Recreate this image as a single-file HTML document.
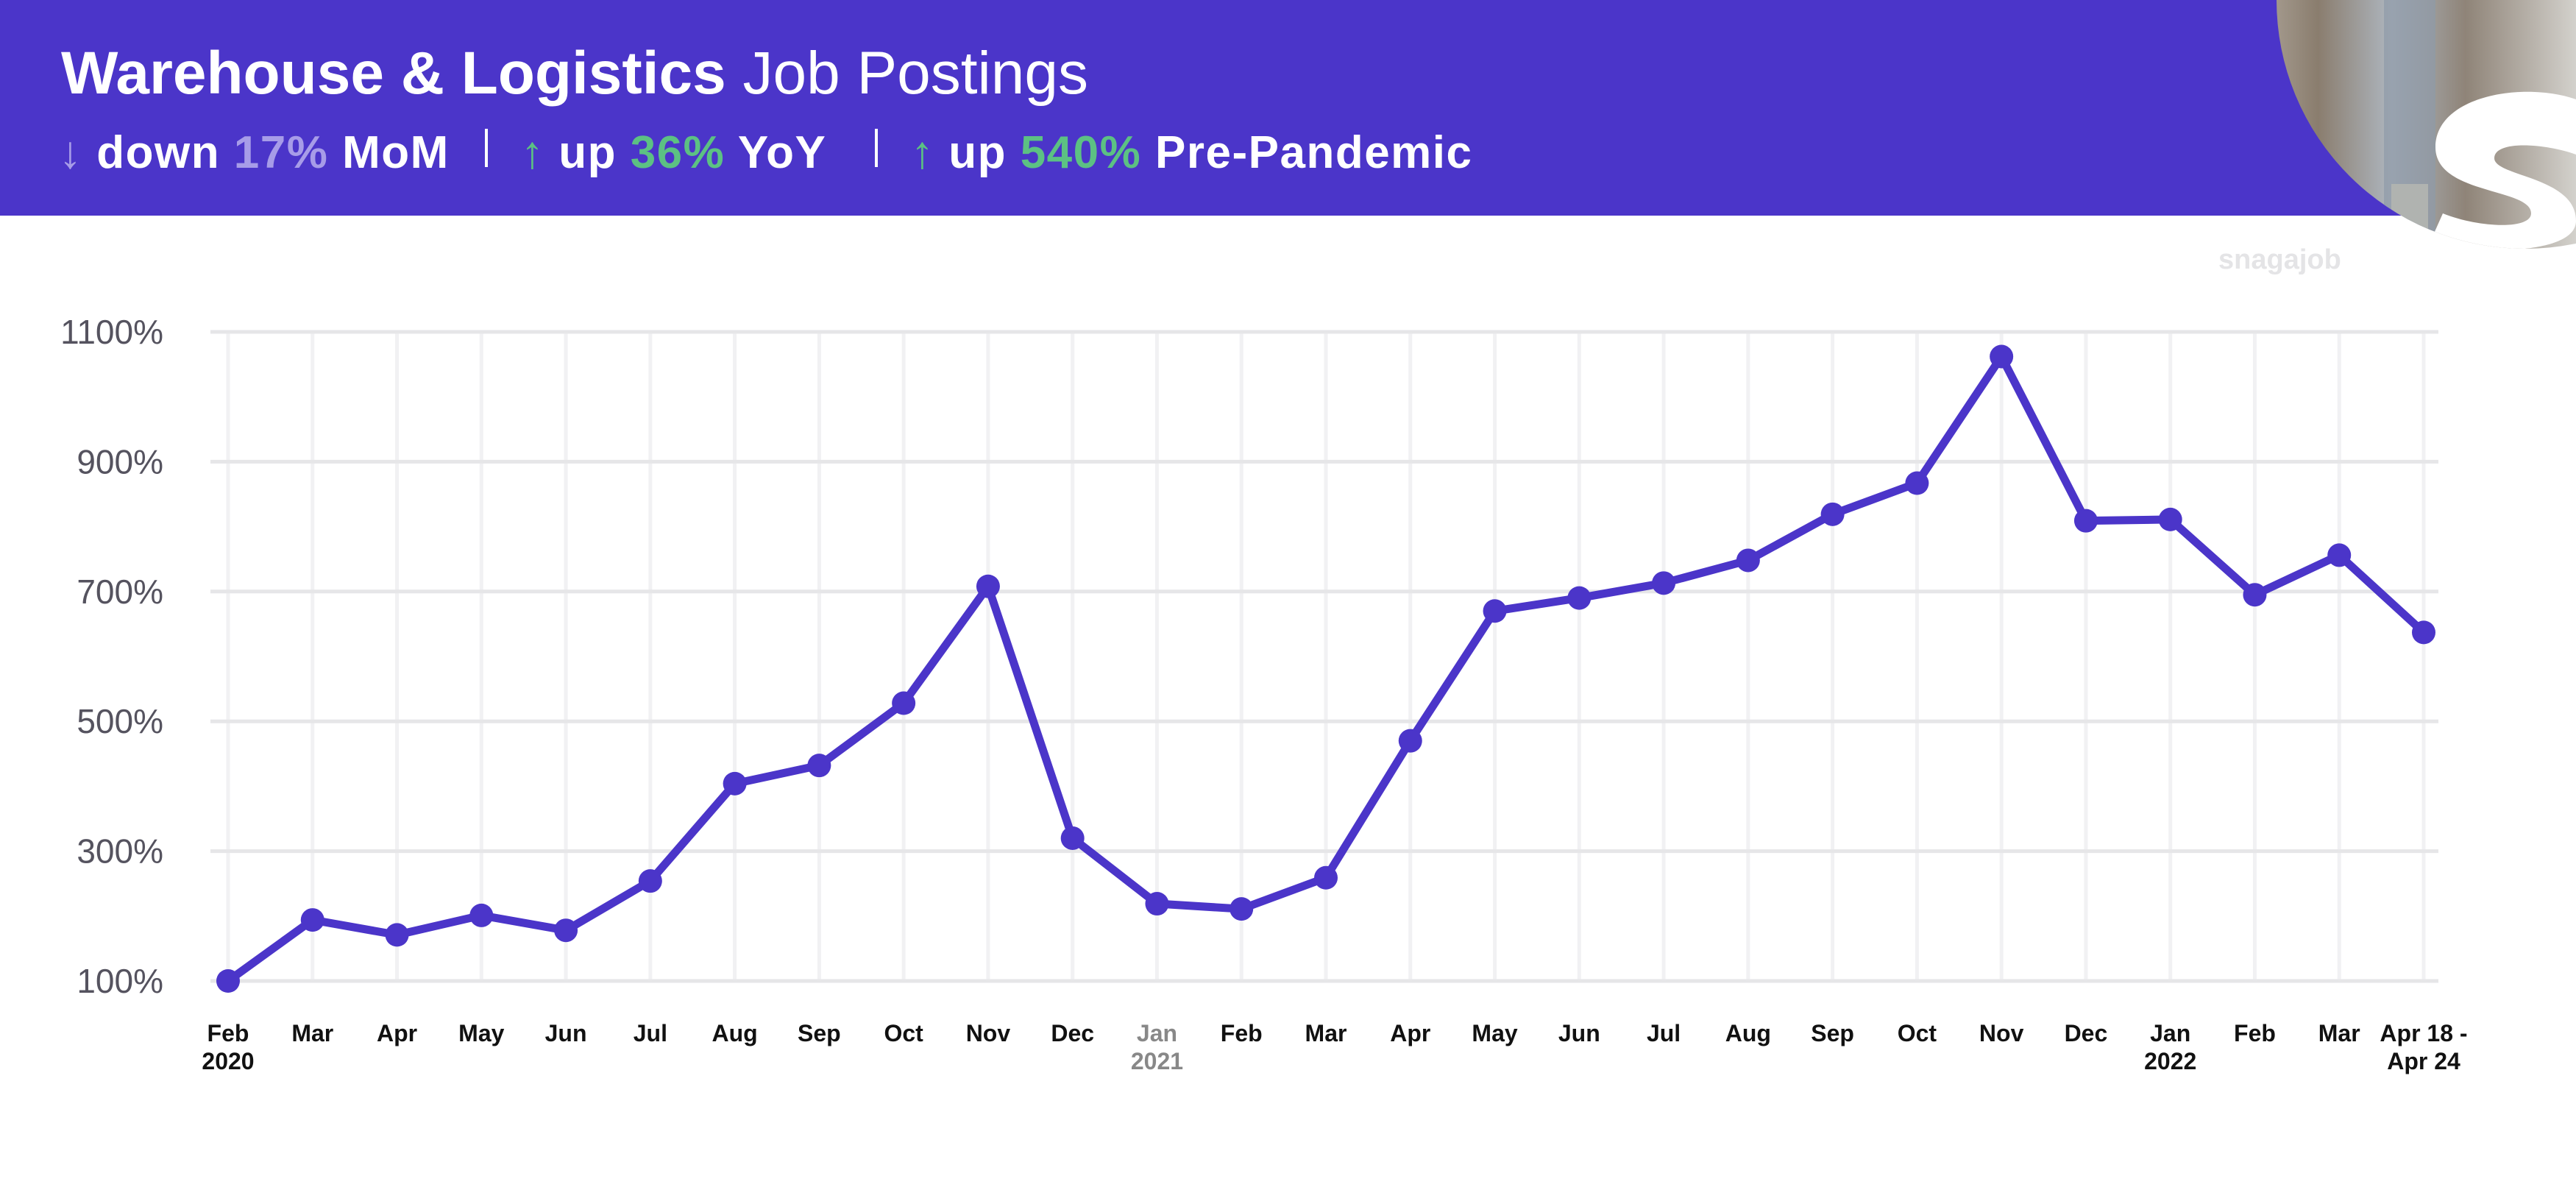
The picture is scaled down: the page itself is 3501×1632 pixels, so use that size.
<!DOCTYPE html>
<html><head><meta charset="utf-8"><style>
body{margin:0;width:3501px;height:1632px;overflow:hidden;background:#fff;font-family:"Liberation Sans",sans-serif}
</style></head><body>
<svg width="3501" height="1632" viewBox="0 0 3501 1632" style="position:absolute;left:0;top:0">
<defs>
<clipPath id="cc"><circle cx="3432" cy="0" r="338"/></clipPath>
<linearGradient id="wh" x1="0" y1="0" x2="1" y2="0"><stop offset="0" stop-color="#c9c4bb"/><stop offset="0.3" stop-color="#8a7d6e"/><stop offset="0.5" stop-color="#aeb6bf"/><stop offset="0.7" stop-color="#8f8478"/><stop offset="1" stop-color="#d3d1cc"/></linearGradient>
</defs>
<rect x="0" y="0" width="3501" height="293" fill="#4B35C9"/>
<g clip-path="url(#cc)">
<rect x="3000" y="0" width="501" height="400" fill="url(#wh)"/>
<rect x="3240" y="0" width="70" height="400" fill="#8e9aa8" opacity="0.7"/>
<rect x="3250" y="250" width="50" height="100" fill="#b0b3b0"/>
<path d="M3501 135 C3430 110 3310 130 3310 200 C3310 265 3440 255 3440 290 C3440 312 3370 310 3320 290 L3300 335 C3380 345 3501 345 3501 300 C3501 240 3390 240 3390 215 C3390 190 3460 195 3501 210 Z" fill="#fff"/>
</g>
<text x="3015" y="365" font-size="38" font-weight="bold" fill="#e4e4e6">snagajob</text>
<text x="83" y="127" font-size="82" fill="#fff"><tspan font-weight="bold">Warehouse &amp; Logistics</tspan> Job Postings</text>
<g font-size="62" font-weight="bold" letter-spacing="1.5">
<text x="80" y="228" fill="#fff"><tspan fill="#A79CE8" font-weight="normal">↓</tspan> down <tspan fill="#A79CE8">17%</tspan> MoM</text>
<rect x="659" y="175" width="4" height="52" fill="#fff"/>
<text x="708" y="228" fill="#fff"><tspan fill="#5CC183" font-weight="normal">↑</tspan> up <tspan fill="#5CC183">36%</tspan> YoY</text>
<rect x="1189" y="175" width="4" height="52" fill="#fff"/>
<text x="1238" y="228" fill="#fff"><tspan fill="#5CC183" font-weight="normal">↑</tspan> up <tspan fill="#5CC183">540%</tspan> Pre-Pandemic</text>
</g>
<g id="grid"></g><g id="ylab"></g><g id="xlab"></g><g id="series"></g>
</svg>
<script>
const categories=["Feb","Mar","Apr","May","Jun","Jul","Aug","Sep","Oct","Nov","Dec","Jan","Feb","Mar","Apr","May","Jun","Jul","Aug","Sep","Oct","Nov","Dec","Jan","Feb","Mar","Apr 18 -"];
const subLabels={0:"2020",11:"2021",23:"2022",26:"Apr 24"};
const values=[100,194,171,201,178,254,404,432,528,708,320,219,211,259,470,670,690,713,748,819,867,1062,809,811,695,756,637];
const yTicks=[100,300,500,700,900,1100];
const NS="http://www.w3.org/2000/svg";
const x0=310,x1=3294,yb=1333,yt=451;
const xs=i=>x0+(x1-x0)*i/(categories.length-1);
const ys=v=>yb-(v-100)/1000*(yb-yt);
function mk(t,a,p){const e=document.createElementNS(NS,t);for(const k in a)e.setAttribute(k,a[k]);p.appendChild(e);return e;}
const g=document.getElementById('grid'),yl=document.getElementById('ylab'),xl=document.getElementById('xlab'),s=document.getElementById('series');
categories.forEach((c,i)=>{const l=mk('line',{x1:xs(i),x2:xs(i),y1:yt,y2:yb,stroke:'#f1f1f3','stroke-width':5},g);

});
yTicks.forEach(v=>{const l=mk('line',{x1:286,x2:3314,y1:ys(v),y2:ys(v),stroke:'#e6e6e8','stroke-width':5},g);


const t=mk('text',{x:222,y:ys(v)+16,'font-size':46,fill:'#55535f','text-anchor':'end'},yl);t.textContent=v+'%';

});
categories.forEach((c,i)=>{const col=(i===11)?'#888':'#111';
const t=mk('text',{x:xs(i),y:1415,'font-size':32,'font-weight':'bold',fill:col,'text-anchor':'middle'},xl);t.textContent=c;


if(subLabels[i]){const u=mk('text',{x:xs(i),y:1453,'font-size':32,'font-weight':'bold',fill:col,'text-anchor':'middle'},xl);u.textContent=subLabels[i];

}});
const p=mk('polyline',{points:values.map((v,i)=>xs(i)+','+ys(v)).join(' '),fill:'none',stroke:'#4B35C9','stroke-width':11,'stroke-linejoin':'round'},s);


values.forEach((v,i)=>{const c=mk('circle',{cx:xs(i),cy:ys(v),r:16,fill:'#4B35C9'},s);

});
</script>
</body></html>
